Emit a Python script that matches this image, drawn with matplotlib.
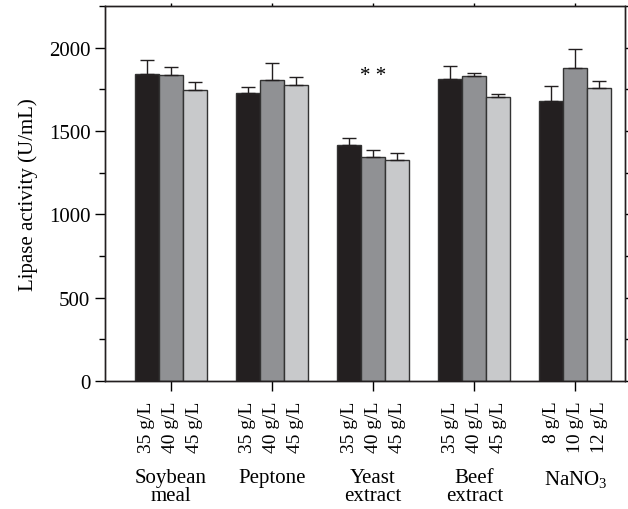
import matplotlib
matplotlib.use("Agg")
import matplotlib.pyplot as plt
import matplotlib.transforms as mtransforms
import numpy as np

plt.rcParams["font.family"] = ["Liberation Serif", "DejaVu Serif"]
plt.rcParams["mathtext.default"] = "regular"

groups = ["Soybean\nmeal", "Peptone", "Yeast\nextract", "Beef\nextract", "NaNO$_3$"]
conc_labels = [
    ["35 g/L", "40 g/L", "45 g/L"],
    ["35 g/L", "40 g/L", "45 g/L"],
    ["35 g/L", "40 g/L", "45 g/L"],
    ["35 g/L", "40 g/L", "45 g/L"],
    ["8 g/L", "10 g/L", "12 g/L"],
]
# activity per group for the low / mid / high concentration
low_vals = [1841, 1729, 1419, 1815, 1679]
mid_vals = [1838, 1807, 1342, 1832, 1877]
high_vals = [1747, 1779, 1328, 1705, 1757]
low_err = [85, 34, 38, 75, 90]
mid_err = [45, 99, 42, 15, 115]
high_err = [50, 44, 38, 16, 45]

_COLORS = ("#231f20", "#909194", "#c8c9cb")
_EDGE = "#333333"
_FS = 15

fig = plt.figure(figsize=(6.28, 5.10), dpi=100)
ax = fig.add_axes([105 / 628, 1 - 382 / 510, 520 / 628, 375 / 510])

centers = np.arange(1, len(groups) + 1)
width = 0.237
series = [(low_vals, low_err), (mid_vals, mid_err), (high_vals, high_err)]
bar_pos = []
bar_lab = []
for k, (vals, errs) in enumerate(series):
    xs = centers + (k - 1) * width
    ax.bar(xs, vals, width=width, color=_COLORS[k], edgecolor=_EDGE, linewidth=1.0, zorder=2)
    ax.errorbar(xs, vals, yerr=[np.zeros(len(errs)), errs], fmt="none",
                ecolor="#231f20", elinewidth=1.0, capsize=5, capthick=1.0, zorder=3)
    bar_pos.extend(xs)
    bar_lab.extend(lab[k] for lab in conc_labels)

ax.text(3, 1833, "* *", ha="center", va="center", fontsize=_FS)

xlim = (0.35, 5.49)
ax.set_xlim(xlim)
ax.set_ylim(0, 2250)

# group centres get short ticks; concentration labels sit under each bar
ax.xaxis.remove_overlapping_locs = False
ax.set_xticks(centers)
ax.set_xticklabels([])
ax.tick_params(axis="x", which="major", direction="out", length=7, width=1)
ax.set_xticks(bar_pos, minor=True)
ax.set_xticklabels(bar_lab, minor=True, rotation=90, fontsize=14)
ax.tick_params(axis="x", which="minor", length=0, pad=14)

ax.set_yticks(np.arange(0, 2001, 500))
ax.set_yticks(np.arange(250, 2251, 500), minor=True)
ax.tick_params(axis="y", which="major", direction="out", length=7, width=1,
               labelsize=_FS, right=True)
ax.tick_params(axis="y", which="minor", direction="out", length=4, width=1, right=True)
ax.set_ylabel("Lipase activity (U/mL)", fontsize=15, labelpad=8)

top = ax.twiny()
top.set_xlim(xlim)
top.set_xticks(centers)
top.set_xticklabels([])
top.tick_params(direction="out", length=2.5, width=1)

for a in (ax, top):
    for sp in a.spines.values():
        sp.set_linewidth(1.0)
        sp.set_color("#231f20")

trans = mtransforms.blended_transform_factory(ax.transData, ax.transAxes)
for x, name in zip(centers, groups):
    ax.annotate(name, xy=(x, 0), xycoords=trans, xytext=(0, -63),
                textcoords="offset points", ha="center", va="top",
                fontsize=_FS, linespacing=0.9)

fig.savefig("out.png", dpi=100, facecolor="white")
